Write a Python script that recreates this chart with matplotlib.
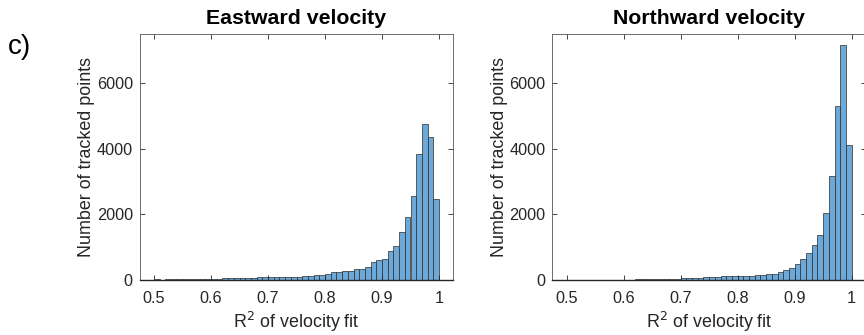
import numpy as np
import matplotlib
matplotlib.use("Agg")
import matplotlib.pyplot as plt

plt.rcParams['font.family'] = ['Liberation Sans', 'DejaVu Sans']

# Histogram bins of R^2 (0.50 .. 1.00, width 0.01)
bin_edges = np.linspace(0.5, 1.0, 51)

# Counts per bin, eastward component
east_counts = [
    20, 15, 20, 25, 25, 30, 30, 30, 20, 35,
    40, 40, 50, 50, 55, 60, 70, 65, 85, 90,
    95, 100, 105, 105, 100, 100, 122, 122, 142, 162,
    183, 233, 233, 274, 274, 345, 345, 386, 548, 609,
    650, 893, 1045, 1451, 1929, 2568, 3847, 4760, 4365, 2456,
]

# Counts per bin, northward component
north_counts = [
    15, 12, 12, 10, 10, 12, 10, 10, 8, 8,
    10, 15, 20, 25, 25, 30, 30, 35, 40, 45,
    55, 60, 65, 70, 80, 100, 105, 110, 115, 120,
    130, 130, 135, 142, 152, 172, 193, 233, 294, 355,
    477, 629, 832, 1066, 1370, 2030, 3177, 5298, 7156, 4111,
]

titles = ["Eastward velocity", "Northward velocity"]
x_ticks = [0.5, 0.6, 0.7, 0.8, 0.9, 1.0]
x_tick_labels = ["0.5", "0.6", "0.7", "0.8", "0.9", "1"]
y_ticks = [0, 2000, 4000, 6000]
y_tick_labels = ["0", "2000", "4000", "6000"]

W, H = 864, 335
fig = plt.figure(figsize=(W / 100, H / 100), dpi=100)

face = '#6CA8D8'
edge = '#2b2b2b'
axis_col = '#262626'

panels = [(139.75, east_counts, titles[0]), (552.4, north_counts, titles[1])]
for left_px, counts, title in panels:
    ax = fig.add_axes([left_px / W, (H - 280) / H, 313.5 / W, 246 / H])
    widths = np.diff(bin_edges)
    ax.bar(bin_edges[:-1], counts, width=widths, align='edge',
           color=face, edgecolor=edge, linewidth=0.5)
    ax.set_xlim(0.475, 1.025)
    ax.set_ylim(0, 7500)
    ax.set_xticks(x_ticks, x_tick_labels)
    ax.set_yticks(y_ticks, y_tick_labels)
    ax.tick_params(direction='in', length=3.5, width=0.6, colors=axis_col,
                   labelsize=11.7, top=True, right=True)
    ax.tick_params(axis='x', pad=8)
    ax.tick_params(axis='y', pad=5)
    for name, s in ax.spines.items():
        s.set_color('#555555' if name != 'bottom' else axis_col)
        s.set_linewidth(0.6)
    ax.spines['bottom'].set_linewidth(1.0)
    ax.set_title(title, fontsize=15.3, fontweight='bold', pad=7.5, color='black')
    ax.set_xlabel(r"R$^2$ of velocity fit", fontsize=12.9, color=axis_col,
                  labelpad=3)
    ax.set_ylabel("Number of tracked points", fontsize=12.9, color=axis_col,
                  labelpad=1)

fig.text(8 / W, 1 - 47 / H, "c)", fontsize=20, va='center', ha='left',
         color='black')

fig.savefig("out.png", dpi=100)
